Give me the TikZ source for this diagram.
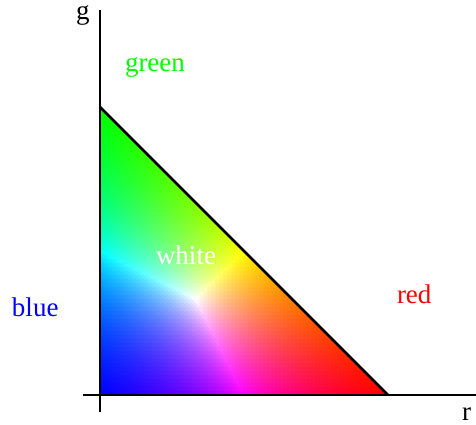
\documentclass[tikz,border=0pt]{standalone}
\usepackage{fontspec}
\setmainfont{Liberation Serif}
\definecolor{pgreen}{rgb}{0,1,0}
\definecolor{pblue}{rgb}{0,0,1}
\definecolor{pred}{rgb}{1,0,0}
\newcommand\settricol[2]{%
  \pgfmathsetmacro\vR{#1}%
  \pgfmathsetmacro\vG{#2}%
  \pgfmathsetmacro\vB{max(0,1-\vR-\vG)}%
  \pgfmathsetmacro\vM{max(\vR,\vG,\vB)}%
  \pgfmathsetmacro\cR{min(1,\vR/\vM)}%
  \pgfmathsetmacro\cG{min(1,\vG/\vM)}%
  \pgfmathsetmacro\cB{min(1,\vB/\vM)}%
  \definecolor{tc}{rgb}{\cR,\cG,\cB}}
\begin{document}
\begin{tikzpicture}[x=1pt,y=-1pt,
  lbl/.style={font=\fontsize{27}{30}\selectfont, anchor=base west, inner sep=0pt, outer sep=0pt},
  axisline/.style={line width=2.6pt},
  cell/.style={fill=tc, draw=tc, line width=0.6pt, line join=round}]
\useasboundingbox (0,0) rectangle (476,425);
% colour field
\foreach \i in {0,...,71}{
  \pgfmathtruncatemacro\jmax{71-\i}
  \foreach \j in {0,...,\jmax}{
    \settricol{(\i+1/3)/72}{(\j+1/3)/72}
    \path[cell] (100+4*\i,395-4*\j) -- (104+4*\i,395-4*\j) -- (100+4*\i,391-4*\j) -- cycle;
    \ifnum\j<\jmax
      \settricol{(\i+2/3)/72}{(\j+2/3)/72}
      \path[cell] (104+4*\i,395-4*\j) -- (104+4*\i,391-4*\j) -- (100+4*\i,391-4*\j) -- cycle;
    \fi
  }
}
% triangle vertices and axes
\coordinate (O) at (100,395);
\coordinate (G) at (100,107);
\coordinate (R) at (388,395);
\coordinate (gtop) at (100,10);
\coordinate (gbot) at (100,412);
\coordinate (rleft) at (83,395);
\coordinate (rright) at (476,395);
\draw[axisline] (gbot) -- (gtop);
\draw[axisline] (rleft) -- (rright);
\draw[axisline, line join=miter] (G) -- (R);
% labels
\node[lbl] (lg) at (76,20) {g};
\node[lbl, text=pgreen] (lgreen) at (125,72) {green};
\node[lbl, text=white] (lwhite) at (156,264) {white};
\node[lbl, text=pblue] (lblue) at (12,316) {blue};
\node[lbl, text=pred] (lred) at (397,303) {red};
\node[lbl] (lr) at (462,420) {r};
\end{tikzpicture}
\end{document}
